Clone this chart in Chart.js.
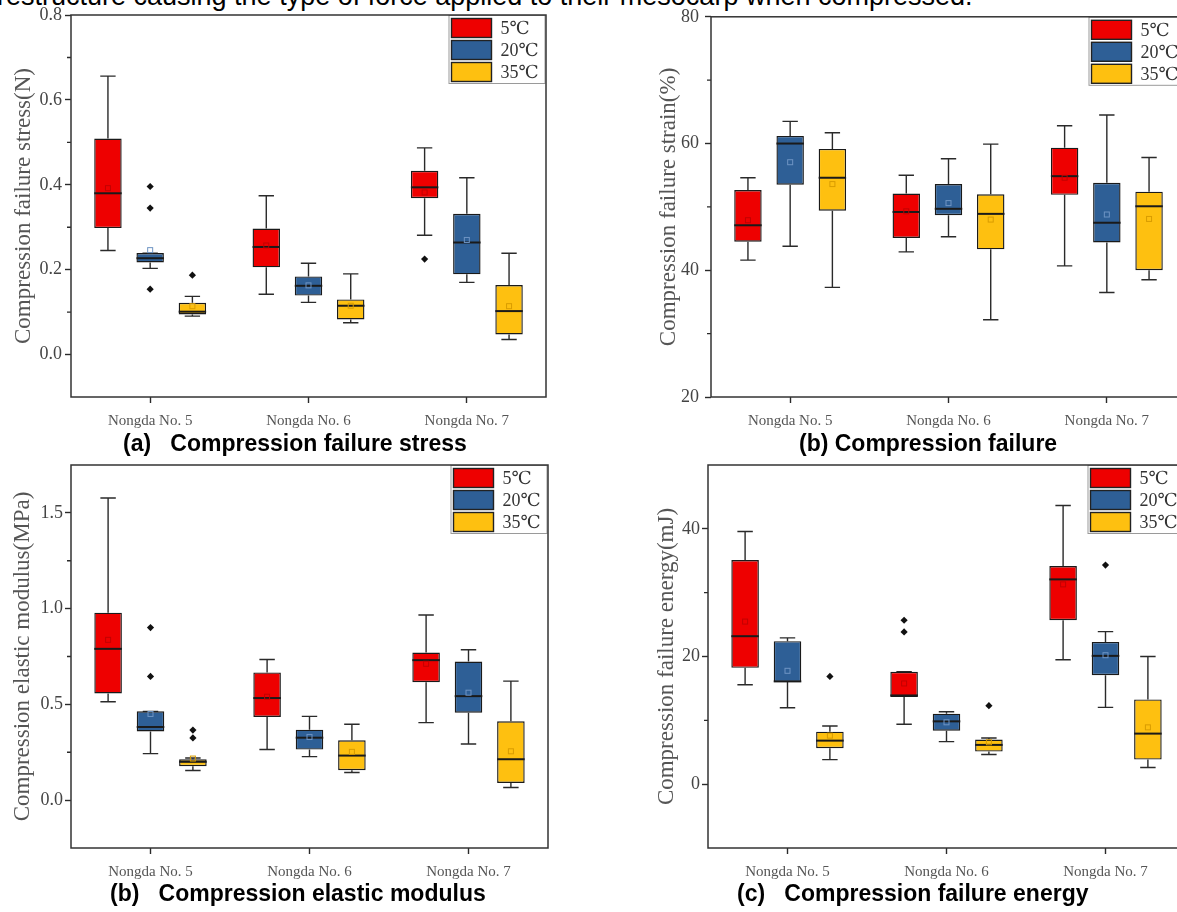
<!DOCTYPE html>
<html>
<head>
<meta charset="utf-8">
<title>Compression properties box plots</title>
<script src="https://cdn.jsdelivr.net/npm/chart.js@4.4.0/dist/chart.umd.min.js"></script>
<style>
    html, body { margin: 0; padding: 0; background: #fff; overflow: hidden; }
    body { width: 1177px; height: 912px; position: relative; }
    .lead { position: absolute; left: -3px; top: -19px; font: 27px/30px "Liberation Sans", Arial, sans-serif; color: #000; white-space: nowrap; }
    canvas { position: absolute; }
    .cap { position: absolute; font: bold 23px/26px "Liberation Sans", Arial, sans-serif; color: #000; white-space: pre; }
</style>
</head>
<body>
<div class="lead">restructure causing the type of force applied to their mesocarp when compressed.</div>
<canvas id="stressChart" width="560" height="435" style="left:0;top:0"></canvas>
<canvas id="strainChart" width="560" height="435" style="left:640px;top:0"></canvas>
<canvas id="modulusChart" width="560" height="436" style="left:0;top:450px"></canvas>
<canvas id="energyChart" width="560" height="436" style="left:637px;top:450px"></canvas>
<div class="cap" style="left:123px;top:430px">(a)   Compression failure stress</div>
<div class="cap" style="left:799px;top:430px">(b) Compression failure</div>
<div class="cap" style="left:110px;top:880px">(b)   Compression elastic modulus</div>
<div class="cap" style="left:737px;top:880px">(c)   Compression failure energy</div>
<script>
const varieties = ['Nongda No. 5', 'Nongda No. 6', 'Nongda No. 7'];
const temperatures = ['5℃', '20℃', '35℃'];

// each row = one temperature, each entry = [lower whisker, Q1, median, Q3, upper whisker] for No.5, No.6, No.7
const stressBoxes = [
    [[0.245, 0.298, 0.380, 0.509, 0.656], [0.142, 0.2055, 0.2535, 0.297, 0.374], [0.281, 0.3685, 0.394, 0.433, 0.487]],
    [[0.203, 0.217, 0.227, 0.239, 0.239], [0.123, 0.139, 0.162, 0.184, 0.215], [0.170, 0.189, 0.264, 0.3315, 0.4165]],
    [[0.0906, 0.0945, 0.101, 0.122, 0.137], [0.0748, 0.0827, 0.115, 0.130, 0.190], [0.0354, 0.0472, 0.1024, 0.1638, 0.2386]]
];
const stressMeans = [[0.392, 0.257, 0.382], [0.246, 0.163, 0.270], [0.114, 0.115, 0.114]];
const stressOutliers = [[[], [], [0.225]], [[0.396, 0.345, 0.154], [], []], [[0.187], [], []]];
const stressTicks = [0, 0.2, 0.4, 0.6, 0.8];
const stressMinor = [0.1, 0.3, 0.5, 0.7];

const strainBoxes = [
    [[41.6, 44.5, 47.1, 52.65, 54.6], [42.9, 45.1, 49.2, 52.1, 55.0], [40.7, 51.9, 54.85, 59.35, 62.8]],
    [[43.8, 53.5, 60.0, 61.2, 63.5], [45.3, 48.7, 49.7, 53.6, 57.6], [36.5, 44.4, 47.5, 53.8, 64.5]],
    [[37.3, 49.4, 54.6, 59.15, 61.7], [32.2, 43.3, 48.9, 52.0, 59.9], [38.5, 40.0, 50.1, 52.4, 57.8]]
];
const strainMeans = [[47.9, 49.3, 54.6], [57.05, 50.6, 48.8], [53.6, 48.0, 48.1]];
const strainOutliers = [[[], [], []], [[], [], []], [[], [], []]];
const strainTicks = [20, 40, 60, 80];
const strainMinor = [30, 50, 70];

const modulusBoxes = [
    [[0.514, 0.557, 0.790, 0.979, 1.578], [0.264, 0.434, 0.533, 0.667, 0.734], [0.4045, 0.616, 0.731, 0.771, 0.967]],
    [[0.243, 0.359, 0.382, 0.4635, 0.4635], [0.227, 0.264, 0.326, 0.368, 0.4375], [0.293, 0.4566, 0.543, 0.724, 0.785]],
    [[0.1545, 0.177, 0.200, 0.2135, 0.220], [0.144, 0.156, 0.2326, 0.3125, 0.396], [0.066, 0.090, 0.2135, 0.4115, 0.6215]]
];
const modulusMeans = [[0.837, 0.540, 0.712], [0.450, 0.330, 0.561], [0.217, 0.252, 0.255]];
const modulusOutliers = [[[], [], []], [[0.901, 0.646], [], []], [[0.366, 0.325], [], []]];
const modulusTicks = [0, 0.5, 1.0, 1.5];
const modulusMinor = [0.25, 0.75, 1.25];

const energyBoxes = [
    [[15.57, 18.23, 23.18, 35.1, 39.58], [9.375, 13.65, 13.9, 17.6, 17.6], [19.48, 25.68, 32.08, 34.17, 43.65]],
    [[11.98, 16.0, 16.1, 22.4, 22.92], [6.67, 8.385, 9.84, 11.04, 11.35], [12.03, 17.08, 20.1, 22.29, 23.9]],
    [[3.85, 5.625, 6.82, 8.23, 9.11], [4.64, 5.10, 6.15, 6.98, 7.24], [2.60, 3.85, 7.92, 13.28, 20.0]]
];
const energyMeans = [[25.47, 15.78, 31.3], [17.76, 9.69, 20.2], [7.6, 6.56, 8.9]];
const energyOutliers = [[[], [25.68, 23.85], []], [[], [], [34.32]], [[16.875], [12.29], []]];
const energyTicks = [0, 20, 40];
const energyMinor = [10, 30];

const fills = ['#ee0000', '#2e5f96', '#fec010'];
const meanEdges = ['#c20000', '#6e94c3', '#d99c00'];
const serif = '"Liberation Serif", "DejaVu Serif", serif';
const ink = '#2a2a2a';

function boxExtras(boxes, means, outliers, minor) {
    return {
        id: 'boxExtras',
        beforeDatasetsDraw(chart) {
            const { ctx, scales: { y } } = chart;
            ctx.save();
            ctx.strokeStyle = ink;
            ctx.lineWidth = 1.4;
            boxes.forEach((rows, k) => {
                chart.getDatasetMeta(k).data.forEach((bar, i) => {
                    const [lo, q1, , q3, hi] = rows[i];
                    const half = bar.width * 0.28;
                    const yLo = y.getPixelForValue(lo), yHi = y.getPixelForValue(hi);
                    ctx.beginPath();
                    ctx.moveTo(bar.x, yHi); ctx.lineTo(bar.x, y.getPixelForValue(q3));
                    ctx.moveTo(bar.x, y.getPixelForValue(q1)); ctx.lineTo(bar.x, yLo);
                    ctx.moveTo(bar.x - half, yHi); ctx.lineTo(bar.x + half, yHi);
                    ctx.moveTo(bar.x - half, yLo); ctx.lineTo(bar.x + half, yLo);
                    ctx.stroke();
                });
            });
            ctx.restore();
        },
        afterDatasetsDraw(chart) {
            const { ctx, scales: { y } } = chart;
            ctx.save();
            boxes.forEach((rows, k) => {
                chart.getDatasetMeta(k).data.forEach((bar, i) => {
                    // median
                    const ym = y.getPixelForValue(rows[i][2]);
                    ctx.strokeStyle = '#1a1a1a';
                    ctx.lineWidth = 2;
                    ctx.beginPath();
                    ctx.moveTo(bar.x - bar.width / 2, ym);
                    ctx.lineTo(bar.x + bar.width / 2, ym);
                    ctx.stroke();
                    // mean (open square)
                    const yMean = y.getPixelForValue(means[k][i]);
                    ctx.strokeStyle = meanEdges[k];
                    ctx.lineWidth = 1;
                    ctx.strokeRect(bar.x - 2.5, yMean - 2.5, 5, 5);
                    // outliers (diamonds)
                    ctx.fillStyle = '#111';
                    outliers[k][i].forEach(v => {
                        const yo = y.getPixelForValue(v);
                        ctx.beginPath();
                        ctx.moveTo(bar.x, yo - 3.6);
                        ctx.lineTo(bar.x + 3.6, yo);
                        ctx.lineTo(bar.x, yo + 3.6);
                        ctx.lineTo(bar.x - 3.6, yo);
                        ctx.closePath();
                        ctx.fill();
                    });
                });
            });
            ctx.restore();
        },
        afterDraw(chart) {
            const { ctx, chartArea: { left, top, right, bottom }, scales: { y } } = chart;
            ctx.save();
            // minor ticks on the y axis
            ctx.strokeStyle = ink;
            ctx.lineWidth = 1.4;
            ctx.beginPath();
            minor.forEach(v => {
                const yy = y.getPixelForValue(v);
                ctx.moveTo(left - 4, yy);
                ctx.lineTo(left, yy);
            });
            ctx.stroke();
            // legend in the upper right corner
            const lx = right - 97, ly = top + 0.5;
            ctx.fillStyle = '#fff';
            ctx.fillRect(lx, ly, 96, 68);
            ctx.strokeStyle = '#9a9a9a';
            ctx.lineWidth = 1;
            ctx.strokeRect(lx, ly, 96, 68);
            ctx.font = '18px ' + serif;
            ctx.textBaseline = 'middle';
            temperatures.forEach((t, k) => {
                const sy = ly + 3 + k * 22;
                ctx.fillStyle = fills[k];
                ctx.fillRect(lx + 2.5, sy, 40, 19);
                ctx.strokeStyle = '#222';
                ctx.lineWidth = 1.4;
                ctx.strokeRect(lx + 2.5, sy, 40, 19);
                ctx.fillStyle = '#333';
                ctx.fillText(t, lx + 51.5, sy + 10.5);
            });
            // frame round the plot area
            ctx.strokeStyle = '#333';
            ctx.lineWidth = 1.5;
            ctx.strokeRect(left, top, right - left, bottom - top);
            ctx.restore();
        }
    };
}

function drawBoxChart(canvasId, boxes, means, outliers, axis) {
    const ctx = document.getElementById(canvasId).getContext('2d');
    const datasets = temperatures.map((t, k) => ({
        label: t,
        data: boxes[k].map(b => [b[1], b[3]]),
        backgroundColor: fills[k],
        borderColor: '#1a1a1a',
        borderWidth: 1.4,
        borderSkipped: false,
        categoryPercentage: 0.8,
        barPercentage: 0.65
    }));
    return new Chart(ctx, {
        type: 'bar',
        data: { labels: varieties, datasets: datasets },
        options: {
            responsive: false,
            animation: false,
            layout: { padding: { left: 0, top: 15, right: axis.padRight, bottom: 0 } },
            plugins: { legend: { display: false }, tooltip: { enabled: false } },
            scales: {
                x: {
                    grid: { display: true, drawOnChartArea: false, offset: false, tickLength: 6, tickColor: ink, tickWidth: 1.4 },
                    border: { display: false },
                    ticks: { color: '#555', font: { family: serif, size: 15 }, padding: 9, maxRotation: 0, autoSkip: false },
                    afterFit: s => { s.height = 38; }
                },
                y: {
                    min: axis.min,
                    max: axis.max,
                    grid: { display: true, drawOnChartArea: false, tickLength: 6, tickColor: ink, tickWidth: 1.4 },
                    border: { display: false },
                    ticks: {
                        color: '#444',
                        font: { family: serif, size: 18 },
                        padding: axis.tickPad,
                        callback: v => v.toFixed(axis.decimals)
                    },
                    afterBuildTicks: s => { s.ticks = axis.ticks.map(v => ({ value: v })); },
                    afterFit: s => { s.width = 71; },
                    title: {
                        display: true,
                        text: axis.title,
                        color: '#555',
                        font: { family: serif, size: 23 },
                        padding: { top: axis.titlePad, bottom: 0 }
                    }
                }
            }
        },
        plugins: [boxExtras(boxes, means, outliers, axis.minor)]
    });
}

drawBoxChart('stressChart', stressBoxes, stressMeans, stressOutliers, {
    min: -0.1, max: 0.8, ticks: stressTicks, minor: stressMinor, decimals: 1,
    title: 'Compression failure stress(N)', padRight: 14, tickPad: 3, titlePad: 10
});
drawBoxChart('strainChart', strainBoxes, strainMeans, strainOutliers, {
    min: 20, max: 80, ticks: strainTicks, minor: strainMinor, decimals: 0,
    title: 'Compression failure strain(%)', padRight: 14, tickPad: 6, titlePad: 15
});
drawBoxChart('modulusChart', modulusBoxes, modulusMeans, modulusOutliers, {
    min: -0.25, max: 1.75, ticks: modulusTicks, minor: modulusMinor, decimals: 1,
    title: 'Compression elastic modulus(MPa)', padRight: 12, tickPad: 2, titlePad: 9
});
drawBoxChart('energyChart', energyBoxes, energyMeans, energyOutliers, {
    min: -10, max: 50, ticks: energyTicks, minor: energyMinor, decimals: 0,
    title: 'Compression failure energy(mJ)', padRight: 12, tickPad: 2, titlePad: 16
});
</script>
</body>
</html>
